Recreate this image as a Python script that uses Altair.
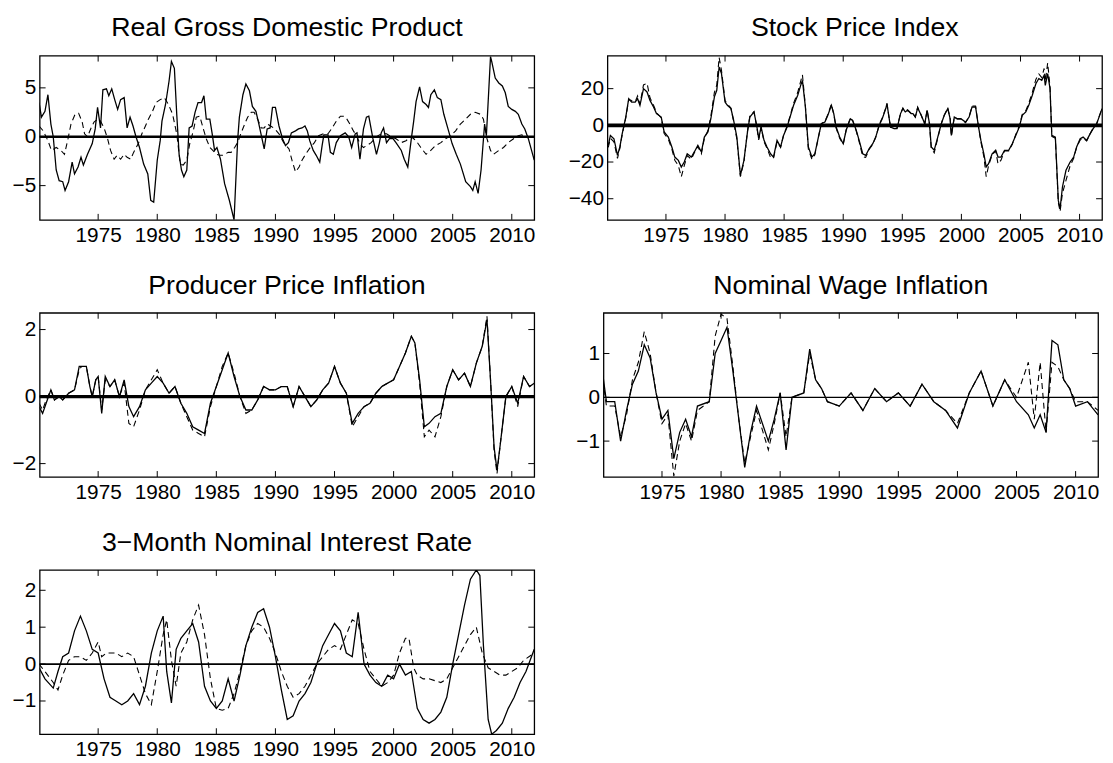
import altair as alt
import pandas as pd

FONT = "Liberation Sans"
XDOM = [1970.05, 2011.9]
XTICKS = [1975, 1980, 1985, 1990, 1995, 2000, 2005, 2010]
W, H = 500, 166

# ---------------- Real GDP ----------------
GDP_S_T = [1970.0,1970.2,1970.5,1970.75,1971.0,1971.2,1971.45,1971.7,1972.0,1972.2,1972.5,1972.8,1973.0,1973.3,1973.55,1973.75,1974.1,1974.5,1974.75,1974.95,1975.2,1975.4,1975.7,1975.9,1976.15,1976.4,1976.65,1976.9,1977.2,1977.45,1977.7,1977.95,1978.2,1978.5,1978.85,1979.2,1979.45,1979.7,1980.0,1980.25,1980.4,1980.7,1981.0,1981.2,1981.45,1981.65,1981.85,1982.05,1982.25,1982.5,1982.7,1982.95,1983.2,1983.45,1983.75,1983.95,1984.15,1984.45,1984.65,1984.85,1985.05,1985.35,1985.7,1986.1,1986.5,1986.8,1986.95,1987.25,1987.5,1987.8,1988.05,1988.35,1988.6,1989.05,1989.3,1989.55,1989.75,1990.0,1990.3,1990.6,1990.85,1991.1,1991.35,1991.7,1991.95,1992.25,1992.5,1992.7,1992.9,1993.2,1993.45,1993.75,1993.95,1994.1,1994.45,1994.65,1994.9,1995.15,1995.5,1995.9,1996.2,1996.45,1996.75,1996.9,1997.15,1997.45,1997.7,1997.9,1998.25,1998.55,1998.8,1998.95,1999.15,1999.4,1999.65,1999.95,2000.2,2000.65,2000.9,2001.2,2001.5,2001.7,2001.9,2002.2,2002.45,2002.75,2002.95,2003.15,2003.45,2003.7,2004.0,2004.25,2004.65,2004.95,2005.3,2005.65,2006.1,2006.5,2006.7,2006.9,2007.15,2007.4,2007.7,2007.85,2008.05,2008.2,2008.3,2008.6,2008.9,2009.2,2009.45,2009.7,2010.0,2010.3,2010.55,2010.85,2011.1,2011.4,2011.9]
GDP_S_V = [3.5,2.0,2.6,4.3,1.3,0.0,-3.4,-4.5,-4.6,-5.5,-4.6,-2.6,-3.8,-3.1,-2.1,-2.9,-1.8,-0.7,0.8,3.0,0.9,4.8,4.9,4.2,4.9,3.8,2.8,3.8,4.0,0.9,2.0,1.1,0.0,-1.1,-2.8,-3.8,-6.5,-6.7,-2.4,-0.4,1.6,3.3,5.7,7.7,7.0,2.3,-1.8,-3.4,-4.1,-3.4,0.9,1.1,2.5,3.5,3.5,4.2,1.8,1.8,0.3,-1.4,-1.1,-2.3,-4.8,-6.5,-8.5,-0.4,2.0,4.3,5.4,4.7,3.1,2.6,1.3,-1.25,0.8,0.9,3.0,3.0,1.1,-0.2,-0.9,-0.6,0.4,0.6,0.8,0.9,1.1,0.6,-0.4,-1.4,-1.9,-2.6,-0.9,0.2,0.2,-1.6,-1.8,-0.6,0.1,0.4,0.0,-1.1,0.3,0.4,-2.3,0.8,2.0,2.1,-0.2,-1.8,-0.6,0.4,0.9,-0.6,-0.2,-0.2,-0.6,-1.4,-2.3,-3.1,-0.2,1.6,3.6,5.1,3.6,3.3,3.0,4.3,4.8,4.0,3.8,2.3,0.6,-0.7,-1.8,-2.8,-4.6,-5.1,-5.5,-4.6,-5.8,-3.4,1.3,0.1,4.7,8.2,7.7,6.0,5.5,5.2,4.5,3.1,2.8,2.6,2.3,1.3,0.8,-0.2,-2.4]
GDP_D_T = [1970.0,1970.35,1970.75,1971.05,1971.45,1971.85,1972.15,1972.45,1972.7,1973.05,1973.35,1973.65,1973.85,1974.1,1974.4,1974.65,1974.95,1975.2,1975.5,1975.8,1976.05,1976.35,1976.6,1976.9,1977.2,1977.45,1977.75,1978.0,1978.4,1978.7,1979.0,1979.25,1979.6,1979.9,1980.25,1980.6,1980.95,1981.3,1981.65,1981.95,1982.2,1982.5,1982.75,1983.05,1983.3,1983.6,1983.9,1984.15,1984.45,1984.7,1985.0,1985.3,1985.55,1986.0,1986.25,1986.55,1986.8,1987.1,1987.4,1987.65,1987.95,1988.2,1988.5,1988.8,1989.05,1989.3,1989.6,1989.95,1990.3,1990.7,1991.15,1991.4,1991.7,1992.0,1992.25,1992.55,1992.95,1993.3,1993.65,1994.05,1994.45,1994.8,1995.15,1995.5,1995.8,1996.05,1996.3,1996.6,1996.9,1997.15,1997.45,1997.75,1998.1,1998.55,1998.95,1999.4,1999.8,2000.2,2000.65,2001.05,2001.5,2001.9,2002.3,2002.75,2003.15,2003.55,2004.0,2004.4,2004.8,2005.25,2005.65,2006.1,2006.5,2006.9,2007.35,2007.6,2007.9,2008.2,2008.45,2008.9,2009.3,2009.7,2010.15,2010.55,2010.85,2011.1,2011.5]
GDP_D_V = [1.1,0.6,-0.4,-1.4,-1.1,-1.4,-1.8,-0.2,1.3,2.3,2.4,1.5,0.3,0.0,0.9,1.5,1.8,1.6,0.9,-0.2,-1.4,-2.3,-1.9,-2.3,-1.8,-2.1,-2.3,-1.6,-0.7,0.3,1.1,1.8,2.6,3.5,3.8,4.0,3.3,2.3,0.3,-2.8,-2.9,-2.4,-0.7,0.6,2.0,2.1,0.8,-0.2,-1.1,-1.4,-1.8,-1.9,-1.9,-1.6,-1.6,-1.1,-0.6,0.4,1.3,2.0,2.5,2.5,1.8,0.9,0.9,1.3,1.1,0.8,0.3,-0.6,-1.25,-2.4,-3.6,-3.1,-2.4,-1.8,-1.1,-0.6,0.1,0.3,0.3,0.9,1.6,2.1,2.1,1.8,1.3,0.6,0.0,-0.7,-1.1,-0.9,-0.6,0.0,0.3,0.3,0.0,-0.2,-0.6,-0.4,0.0,-0.4,-1.1,-1.8,-1.4,-0.9,-0.6,-0.2,0.1,0.6,1.3,1.8,2.3,2.5,2.3,1.8,-0.2,-1.4,-1.8,-1.4,-1.1,-0.6,-0.2,0.1,0.2,0.0,0.0]

# ---------------- Stock Price Index ----------------
SPI_S_T = [1970.12,1970.3,1970.6,1970.9,1971.1,1971.3,1971.6,1971.85,1972.1,1972.4,1972.6,1972.8,1973.1,1973.4,1973.65,1973.95,1974.2,1974.6,1974.85,1975.2,1975.5,1975.75,1976.05,1976.3,1976.55,1976.8,1977.15,1977.4,1977.7,1978.0,1978.25,1978.55,1978.8,1979.1,1979.3,1979.5,1979.7,1980.0,1980.2,1980.5,1980.7,1981.0,1981.3,1981.6,1981.9,1982.1,1982.45,1982.7,1982.85,1983.05,1983.3,1983.55,1983.85,1984.1,1984.4,1984.7,1984.95,1985.25,1985.5,1985.8,1986.15,1986.4,1986.55,1986.8,1987.05,1987.35,1987.6,1987.9,1988.15,1988.45,1988.7,1989.0,1989.2,1989.4,1989.7,1990.0,1990.25,1990.6,1990.8,1991.1,1991.35,1991.65,1991.9,1992.2,1992.5,1992.75,1993.05,1993.3,1993.6,1993.7,1994.0,1994.3,1994.55,1994.85,1995.05,1995.25,1995.45,1995.75,1995.9,1996.1,1996.3,1996.6,1996.9,1997.1,1997.3,1997.45,1997.7,1998.0,1998.3,1998.55,1998.85,1999.05,1999.15,1999.4,1999.65,1999.95,2000.35,2000.65,2000.9,2001.2,2001.45,2001.65,2001.9,2002.1,2002.3,2002.6,2002.9,2003.1,2003.35,2003.65,2004.0,2004.3,2004.6,2004.9,2005.15,2005.45,2005.7,2006.0,2006.3,2006.55,2006.8,2007.0,2007.1,2007.3,2007.5,2007.65,2007.95,2008.2,2008.35,2008.55,2008.85,2009.2,2009.5,2009.75,2010.05,2010.3,2010.6,2010.9,2011.15,2011.45,2011.75,2011.9]
SPI_S_V = [-10.9,-5.5,-7.3,-16.4,-11.8,-4.5,4.5,14.5,12.7,12.7,14.5,10.9,20.0,18.2,13.6,10.0,6.4,4.5,-3.6,-6.4,-11.8,-17.3,-19.1,-22.7,-20.0,-15.5,-17.3,-14.5,-10.9,-14.5,-6.4,-3.6,3.6,15.5,19.1,31.8,28.2,12.7,10.9,9.1,3.6,-6.4,-27.3,-19.1,-3.6,4.5,7.3,-0.9,-7.3,-0.9,-8.2,-11.8,-15.5,-17.3,-8.2,-11.8,-5.5,-0.9,4.5,10.9,16.4,21.8,24.5,10.0,-11.8,-17.3,-15.5,-6.4,0.9,1.8,5.5,10.9,6.4,-0.9,-6.4,-10.0,-2.7,3.6,2.7,-2.7,-8.2,-15.5,-16.4,-12.7,-10.0,-6.4,0.0,3.6,9.1,11.8,-0.9,-1.8,-1.8,6.4,9.1,7.3,8.2,6.4,6.4,4.5,9.5,5.5,0.9,8.2,0.9,-11.8,-13.6,-6.4,0.9,5.5,9.1,3.6,-5.5,4.5,3.6,3.6,1.8,4.5,10.0,10.0,-0.9,-8.2,-15.5,-22.7,-20.9,-15.5,-13.6,-17.3,-17.3,-13.6,-13.6,-10.0,-5.5,-0.9,5.5,7.3,10.9,16.4,22.7,25.5,24.5,27.3,21.8,28.2,20.0,-5.5,-6.4,-40.9,-45.5,-33.6,-24.5,-20.0,-17.3,-11.8,-7.3,-6.4,-8.2,-4.5,-1.8,0.9,6.4,9.1]
SPI_D_T = SPI_S_T
SPI_D_V = [-12.0,-7.0,-9.0,-18.0,-12.5,-5.0,4.0,14.0,13.5,13.0,16.0,11.5,22.0,23.0,15.0,11.0,7.0,4.0,-4.5,-7.5,-13.0,-19.0,-22.0,-28.0,-22.0,-16.5,-18.5,-15.0,-11.5,-15.5,-7.0,-3.0,5.0,18.0,22.0,37.0,30.0,13.5,11.5,9.5,3.0,-7.5,-28.0,-20.0,-3.0,5.0,7.5,-1.5,-8.0,-1.0,-9.0,-12.5,-17.5,-18.0,-9.0,-12.0,-5.5,-0.5,5.0,12.0,18.0,24.0,27.5,10.5,-13.0,-18.5,-16.0,-6.5,1.0,2.0,6.0,11.5,6.0,-1.5,-7.0,-10.5,-2.5,4.0,2.5,-3.0,-9.0,-17.0,-17.5,-13.0,-10.5,-6.5,0.5,4.0,9.5,12.0,-1.0,-2.0,-1.5,6.5,9.5,7.5,8.5,6.5,6.5,4.5,10.0,5.5,0.5,8.5,0.5,-12.5,-15.0,-7.0,1.0,5.5,9.5,3.5,-6.0,4.5,3.5,3.5,1.5,4.5,10.5,10.5,-1.0,-9.0,-17.0,-28.0,-22.0,-16.0,-14.0,-21.0,-19.0,-14.0,-14.0,-10.5,-5.0,-0.5,6.0,8.0,12.0,18.0,25.0,28.0,26.0,31.0,24.0,34.0,21.0,-6.0,-7.0,-42.0,-47.0,-37.0,-30.0,-22.0,-18.0,-12.0,-8.0,-7.0,-8.5,-4.5,-1.5,1.0,6.5,9.5]

# ---------------- Producer Price Inflation ----------------
PPI_S_T = [1970.0,1970.3,1970.6,1971.0,1971.3,1971.7,1972.0,1972.5,1973.0,1973.4,1973.6,1974.0,1974.3,1974.5,1974.8,1975.0,1975.3,1975.6,1976.0,1976.4,1976.8,1977.2,1977.6,1978.0,1978.5,1979.0,1979.5,1980.0,1980.5,1981.0,1981.5,1982.0,1982.5,1983.0,1983.5,1984.0,1984.5,1985.0,1985.5,1986.0,1986.5,1987.0,1987.5,1988.0,1988.5,1989.0,1989.5,1990.0,1990.5,1991.0,1991.5,1992.0,1992.5,1993.0,1993.5,1994.0,1994.5,1995.0,1995.5,1996.0,1996.5,1997.0,1997.5,1998.0,1998.5,1999.0,1999.5,2000.0,2000.5,2001.0,2001.5,2001.8,2002.2,2002.6,2003.0,2003.5,2004.0,2004.5,2005.0,2005.5,2006.0,2006.5,2007.0,2007.5,2007.9,2008.2,2008.5,2008.75,2009.0,2009.5,2010.0,2010.5,2011.0,2011.5,2011.9]
PPI_S_V = [-0.3,-0.5,-0.2,0.2,-0.1,0.0,-0.1,0.1,0.2,0.9,0.9,0.9,0.3,0.0,0.5,0.6,-0.5,0.6,0.3,0.5,0.0,0.5,-0.3,-0.6,-0.3,0.2,0.4,0.6,0.4,0.1,0.3,-0.2,-0.5,-0.9,-1.0,-1.1,-0.2,0.3,0.8,1.3,0.6,0.0,-0.4,-0.4,-0.1,0.3,0.2,0.2,0.3,0.3,-0.3,0.3,0.0,-0.3,-0.1,0.2,0.4,0.9,0.4,0.1,-0.8,-0.5,-0.3,-0.2,0.1,0.3,0.4,0.5,0.9,1.3,1.8,1.6,0.5,-0.9,-0.8,-0.6,-0.5,0.3,0.8,0.5,0.7,0.3,1.0,1.5,2.3,0.5,-1.5,-2.2,-1.5,0.0,0.3,-0.2,0.6,0.3,0.4]
PPI_D_T = PPI_S_T
PPI_D_V = [-0.2,-0.4,-0.1,0.2,-0.1,0.0,-0.1,0.1,0.2,0.8,0.9,0.9,0.3,0.0,0.5,0.6,-0.4,0.5,0.3,0.5,0.0,0.4,-0.8,-0.9,-0.4,0.2,0.5,0.8,0.4,0.1,0.3,-0.2,-0.6,-1.0,-1.1,-1.2,-0.3,0.3,0.9,1.3,0.7,0.0,-0.5,-0.4,-0.1,0.3,0.2,0.2,0.3,0.3,-0.3,0.3,0.0,-0.3,-0.1,0.2,0.4,0.9,0.4,0.1,-0.9,-0.6,-0.3,-0.2,0.1,0.3,0.4,0.5,0.9,1.3,1.8,1.6,0.4,-1.2,-1.0,-1.2,-0.6,0.3,0.8,0.5,0.7,0.3,1.0,1.5,2.4,0.5,-1.6,-2.3,-1.5,0.0,0.3,-0.3,0.6,0.3,0.4]

# ---------------- Nominal Wage Inflation ----------------
WAGE_S_T = [1970.0,1970.3,1971.0,1971.5,1972.0,1972.5,1973.0,1973.5,1974.0,1974.5,1975.0,1975.5,1976.0,1976.5,1977.0,1977.5,1978.0,1979.0,1979.5,1980.0,1980.5,1981.0,1981.5,1982.0,1982.5,1983.0,1984.0,1984.5,1985.0,1985.5,1986.0,1987.0,1987.5,1988.0,1988.5,1989.0,1990.0,1991.0,1992.0,1993.0,1994.0,1995.0,1996.0,1997.0,1998.0,1999.0,2000.0,2001.0,2002.0,2003.0,2004.0,2005.0,2006.0,2006.5,2007.0,2007.5,2008.0,2008.5,2009.0,2009.5,2010.0,2011.0,2011.9]
WAGE_S_V = [0.5,-0.1,-0.1,-1.0,-0.3,0.3,0.6,1.2,0.9,0.1,-0.5,-0.3,-1.4,-0.8,-0.5,-0.9,-0.2,-0.1,1.0,1.3,1.6,0.6,-0.5,-1.6,-0.8,-0.2,-1.0,-0.5,0.1,-1.2,0.0,0.1,1.1,0.4,0.2,-0.1,-0.2,0.1,-0.3,0.2,-0.1,0.1,-0.2,0.3,-0.1,-0.3,-0.7,0.1,0.6,-0.2,0.4,-0.1,-0.4,-0.7,-0.4,-0.8,1.3,1.2,0.4,0.2,-0.2,-0.1,-0.4]
WAGE_D_T = WAGE_S_T
WAGE_D_V = [0.4,-0.2,-0.2,-0.9,-0.4,0.4,0.8,1.5,1.0,0.1,-0.6,-0.4,-1.8,-1.0,-0.6,-1.0,-0.3,-0.1,1.4,1.9,1.8,0.7,-0.5,-1.5,-0.9,-0.3,-1.2,-0.6,0.1,-0.9,0.0,0.1,1.0,0.4,0.2,-0.1,-0.2,0.1,-0.3,0.2,-0.1,0.1,-0.2,0.3,-0.1,-0.3,-0.6,0.1,0.6,-0.2,0.4,0.0,0.8,-0.5,0.8,-0.8,0.8,0.7,0.4,0.2,-0.1,-0.1,-0.3]

# ---------------- 3-Month Nominal Interest Rate ----------------
IR_S_T = [1970.0,1970.5,1971.2,1971.6,1972.0,1972.5,1973.0,1973.5,1974.0,1974.5,1975.0,1975.5,1976.0,1976.5,1977.0,1977.5,1978.0,1978.5,1979.0,1979.5,1980.0,1980.5,1980.8,1981.2,1981.6,1982.0,1982.5,1983.0,1983.5,1984.0,1984.5,1985.0,1985.5,1986.0,1986.5,1987.0,1987.5,1988.0,1988.5,1989.0,1989.5,1990.0,1990.5,1991.0,1991.5,1992.0,1992.5,1993.0,1993.5,1994.0,1994.5,1995.0,1995.5,1996.0,1996.5,1997.0,1997.5,1998.0,1998.5,1999.0,1999.5,2000.0,2000.5,2001.0,2001.5,2002.0,2002.5,2003.0,2003.5,2004.0,2004.5,2005.0,2005.5,2006.0,2006.5,2007.0,2007.3,2007.6,2008.0,2008.3,2008.7,2009.2,2009.7,2010.2,2010.7,2011.2,2011.9]
IR_S_V = [-0.1,-0.4,-0.65,-0.2,0.2,0.3,0.9,1.3,0.9,0.4,0.3,-0.4,-0.9,-1.0,-1.1,-1.0,-0.8,-1.1,-0.6,0.3,0.9,1.3,-0.2,-1.05,0.4,0.7,0.9,1.1,0.6,-0.6,-1.0,-1.2,-1.0,-0.4,-1.0,-0.3,0.5,1.0,1.4,1.5,1.0,0.2,-0.7,-1.5,-1.4,-1.0,-0.8,-0.5,0.0,0.5,0.8,1.1,0.9,0.3,0.2,1.4,0.0,-0.3,-0.5,-0.6,-0.3,-0.4,0.0,-0.3,-0.2,-1.2,-1.5,-1.6,-1.5,-1.3,-0.9,0.0,0.8,1.6,2.3,2.55,2.4,0.5,-1.5,-1.9,-1.8,-1.6,-1.2,-0.9,-0.5,-0.2,0.4]
IR_D_T = [1970.0,1970.5,1971.2,1971.6,1972.0,1972.5,1973.0,1973.5,1974.0,1974.5,1975.0,1975.3,1975.7,1976.5,1977.0,1977.5,1978.0,1978.5,1979.0,1979.5,1980.0,1980.5,1980.8,1981.2,1981.6,1982.0,1982.5,1983.0,1983.5,1984.0,1984.5,1985.0,1985.5,1986.0,1986.5,1987.0,1987.5,1988.0,1988.5,1989.0,1989.5,1990.0,1990.5,1991.0,1991.5,1992.0,1992.5,1993.0,1993.5,1994.0,1994.5,1995.0,1995.5,1996.0,1996.5,1997.0,1997.5,1998.0,1998.5,1999.0,1999.5,2000.0,2000.5,2001.0,2001.3,2001.7,2002.0,2002.5,2003.0,2003.5,2004.0,2004.5,2005.0,2005.5,2006.0,2006.5,2007.0,2007.5,2008.0,2008.5,2009.0,2009.5,2010.0,2010.5,2011.0,2011.9]
IR_D_V = [0.0,-0.2,-0.5,-0.7,-0.3,0.1,0.2,0.2,0.1,0.3,0.6,0.2,0.3,0.3,0.2,0.3,0.2,-0.3,-0.8,-1.1,-0.2,0.8,1.2,0.1,-0.6,0.3,0.6,1.2,1.6,0.8,-0.4,-1.2,-1.25,-1.2,-0.8,-0.2,0.5,0.9,1.1,1.0,0.7,0.3,-0.2,-0.6,-0.9,-0.8,-0.6,-0.3,0.0,0.2,0.4,0.5,0.4,0.8,1.2,1.1,0.4,-0.2,-0.4,-0.6,-0.5,-0.3,0.3,0.7,0.7,-0.1,-0.3,-0.4,-0.4,-0.45,-0.5,-0.4,-0.1,0.2,0.5,0.8,1.0,0.3,-0.1,-0.2,-0.3,-0.3,-0.2,-0.1,0.1,0.3]


def panel(title, st, sv, dt, dv, ydom, yticks, zero_w):
    xsc = alt.Scale(domain=XDOM, nice=False, zero=False)
    ysc = alt.Scale(domain=ydom, nice=False, zero=False)
    xax = alt.Axis(values=XTICKS, format="d", ticks=False, domain=False, grid=False,
                   labelFontSize=21, labelFont=FONT, labelColor="black",
                   labelPadding=5, title=None, labelFlush=False)
    yax = alt.Axis(values=yticks, format="d", ticks=False, domain=False, grid=False,
                   labelFontSize=21, labelFont=FONT, labelColor="black",
                   labelPadding=4, title=None)
    X = alt.X("t:Q", scale=xsc, axis=xax)
    Y = alt.Y("v:Q", scale=ysc, axis=yax)
    s_df = pd.DataFrame({"t": st, "v": sv})
    d_df = pd.DataFrame({"t": dt, "v": dv})
    solid = alt.Chart(s_df).mark_line(color="black", strokeWidth=1.3, clip=True).encode(x=X, y=Y)
    dashed = alt.Chart(d_df).mark_line(color="black", strokeWidth=1.1, strokeDash=[6, 4], clip=True).encode(x=X, y=Y)
    zero = alt.Chart(pd.DataFrame({"v": [0]})).mark_rule(color="black", strokeWidth=zero_w).encode(y=Y)
    xt = pd.DataFrame({"t": XTICKS})
    yt = pd.DataFrame({"v": yticks})
    xtop = alt.Chart(xt).mark_rule(color="black", strokeWidth=1).encode(
        x=X, y=alt.value(0), y2=alt.value(6))
    xbot = alt.Chart(xt).mark_rule(color="black", strokeWidth=1).encode(
        x=X, y=alt.value(H - 6), y2=alt.value(H))
    yl = alt.Chart(yt).mark_rule(color="black", strokeWidth=1).encode(
        y=Y, x=alt.value(0), x2=alt.value(6))
    yr = alt.Chart(yt).mark_rule(color="black", strokeWidth=1).encode(
        y=Y, x=alt.value(W - 6), x2=alt.value(W))
    return alt.layer(solid, dashed, zero, xtop, xbot, yl, yr).properties(
        width=W, height=H,
        title=alt.TitleParams(text=title, font=FONT, fontSize=27, fontWeight="normal",
                              anchor="middle", frame="group", color="black", offset=13))


p1 = panel("Real Gross Domestic Product", GDP_S_T, GDP_S_V, GDP_D_T, GDP_D_V, [-8.5, 8.3], [-5, 0, 5], 2.4)
p2 = panel("Stock Price Index", SPI_S_T, SPI_S_V, SPI_D_T, SPI_D_V, [-51.5, 38], [-40, -20, 0, 20], 3.8)
p3 = panel("Producer Price Inflation", PPI_S_T, PPI_S_V, PPI_D_T, PPI_D_V, [-2.4, 2.5], [-2, 0, 2], 3.2)
p4 = panel("Nominal Wage Inflation", WAGE_S_T, WAGE_S_V, WAGE_D_T, WAGE_D_V, [-1.82, 1.93], [-1, 0, 1], 1.2)
p5 = panel("3\u2212Month Nominal Interest Rate", IR_S_T, IR_S_V, IR_D_T, IR_D_V, [-1.9, 2.55], [-1, 0, 1, 2], 1.7)

row1 = alt.hconcat(p1, p2, spacing=31).resolve_scale(x="independent", y="independent")
row2 = alt.hconcat(p3, p4, spacing=38).resolve_scale(x="independent", y="independent")
chart = alt.vconcat(row1, row2, p5, spacing=24).resolve_scale(
    x="independent", y="independent").configure(
    background="white", padding={"left": 3, "top": 1, "right": 0, "bottom": 0}).configure_view(
    stroke="black", strokeWidth=1.3)

chart.save("out.html", embed_options={"renderer": "svg", "actions": False})
